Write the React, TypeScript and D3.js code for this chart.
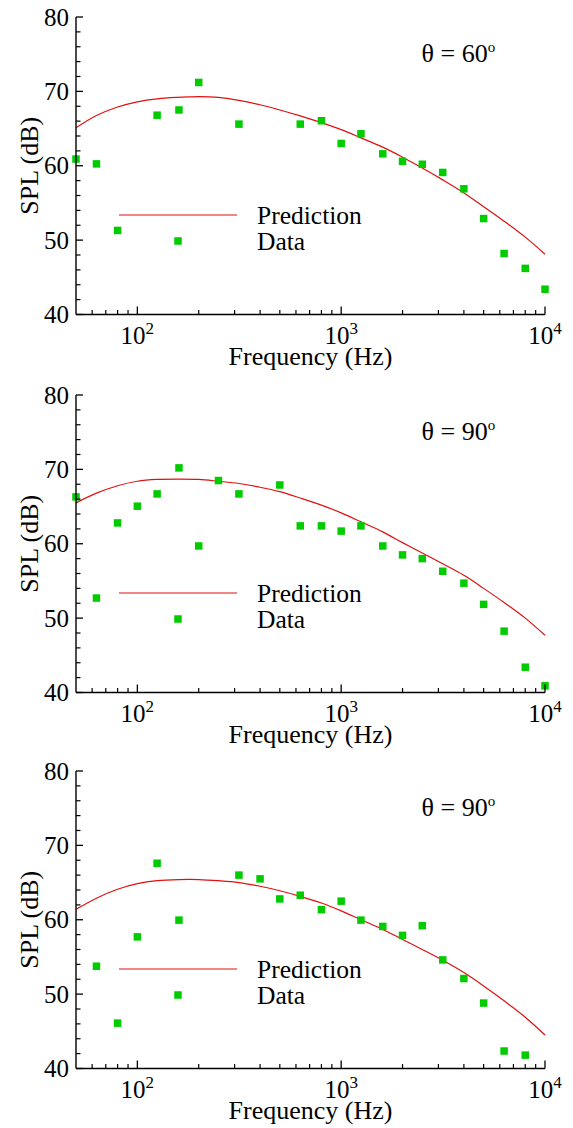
import React from 'react';
import * as d3 from 'd3';

// Prediction curve sampled at 1/3-octave band centre frequencies (Hz)
const predFreqs = [50, 63, 80, 100, 125, 160, 200, 250, 315, 400, 500, 630, 800, 1000, 1250, 1600, 2000, 2500, 3150, 4000, 5000, 6300, 8000, 10000];
const pred60 = [65.1, 66.75, 67.9, 68.6, 69.0, 69.2, 69.3, 69.2, 68.8, 68.2, 67.5, 66.7, 65.8, 64.85, 63.75, 62.5, 61.15, 59.7, 58.1, 56.35, 54.5, 52.55, 50.4, 48.1];
const pred90a = [65.5, 66.8, 67.8, 68.4, 68.65, 68.7, 68.65, 68.4, 68.1, 67.6, 67.0, 66.15, 65.2, 64.15, 62.95, 61.6, 60.15, 58.75, 57.3, 55.75, 54.0, 52.1, 50.0, 47.7];
const pred90b = [61.4, 62.9, 64.1, 64.85, 65.25, 65.4, 65.4, 65.25, 65.0, 64.5, 63.9, 63.15, 62.25, 61.2, 60.0, 58.7, 57.35, 56.0, 54.55, 52.9, 51.1, 49.1, 46.9, 44.5];

// Measured data
const data60Freqs = [50, 63, 80, 125, 160, 200, 315, 630, 800, 1000, 1250, 1600, 2000, 2500, 3150, 4000, 5000, 6300, 8000, 10000];
const data60 = [60.9, 60.25, 51.3, 66.8, 67.5, 71.2, 65.6, 65.6, 66.05, 63.0, 64.3, 61.6, 60.6, 60.2, 59.1, 56.9, 52.9, 48.2, 46.2, 43.4];

const data90aFreqs = [50, 63, 80, 100, 125, 160, 200, 250, 315, 500, 630, 800, 1000, 1250, 1600, 2000, 2500, 3150, 4000, 5000, 6300, 8000, 10000];
const data90a = [66.3, 52.7, 62.8, 65.05, 66.7, 70.2, 59.7, 68.5, 66.7, 67.9, 62.4, 62.4, 61.7, 62.4, 59.7, 58.5, 58.0, 56.3, 54.7, 51.85, 48.25, 43.4, 40.9];

const data90bFreqs = [63, 80, 100, 125, 160, 315, 400, 500, 630, 800, 1000, 1250, 1600, 2000, 2500, 3150, 4000, 5000, 6300, 8000];
const data90b = [53.75, 46.1, 57.7, 67.6, 59.95, 66.0, 65.5, 62.8, 63.3, 61.35, 62.5, 59.95, 59.1, 57.9, 59.2, 54.6, 52.1, 48.8, 42.35, 41.8];

const panelAngles = ['60', '90', '90'];
const yMajorTicks = [40, 50, 60, 70, 80];
const xMajorTicks = [100, 1000, 10000];
const xMajorExps = ['2', '3', '4'];
const legendLabels = ['Prediction', 'Data'];

const FONT = "'Liberation Serif', 'Times New Roman', serif";
const RED = '#e01010';
const GREEN = '#00cc00';

type PanelProps = {
  top: number;
  angle: string;
  pred: number[];
  dFreqs: number[];
  dVals: number[];
};

function Panel({ top, angle, pred, dFreqs, dVals }: PanelProps) {
  const H = 297.5;
  const left = 76;
  const right = 545;
  const bottom = top + H;
  const x = d3.scaleLog().domain([50, 10000]).range([left, right]);
  const y = d3.scaleLinear().domain([40, 80]).range([bottom, top]);
  const line = d3
    .line<number>()
    .x((_, i) => x(predFreqs[i]))
    .y((v) => y(v))
    .curve(d3.curveCatmullRom.alpha(0.5));
  const xMinor = x.ticks().filter((t) => !xMajorTicks.includes(t) && t > 50);
  const yMinor = d3.range(42, 80, 2).filter((t) => t % 10 !== 0);
  const sq = 7.5;
  const legX0 = 119;
  const legX1 = 237;
  return (
    <g>
      {/* prediction */}
      <path d={line(pred) || ''} fill="none" stroke={RED} strokeWidth={1.2} />
      {/* data */}
      {dVals.map((v, i) => (
        <rect
          key={i}
          x={x(dFreqs[i]) - sq / 2}
          y={y(v) - sq / 2}
          width={sq}
          height={sq}
          fill={GREEN}
        />
      ))}
      {/* axes */}
      <line x1={left} x2={left} y1={top} y2={bottom} stroke="#000" strokeWidth={1.4} />
      <line x1={left} x2={right} y1={bottom} y2={bottom} stroke="#000" strokeWidth={1.4} />
      {yMajorTicks.map((t) => (
        <g key={'ym' + t}>
          <line x1={left} x2={left + 7} y1={y(t)} y2={y(t)} stroke="#000" strokeWidth={1.3} />
          <text x={69} y={y(t) + 8.5} textAnchor="end" fontFamily={FONT} fontSize={25}>
            {t}
          </text>
        </g>
      ))}
      {yMinor.map((t) => (
        <line key={'yn' + t} x1={left} x2={left + 4.5} y1={y(t)} y2={y(t)} stroke="#000" strokeWidth={1.2} />
      ))}
      {xMajorTicks.map((t, i) => (
        <g key={'xm' + t}>
          <line x1={x(t)} x2={x(t)} y1={bottom} y2={bottom - 8} stroke="#000" strokeWidth={1.3} />
          <text x={x(t)} y={bottom + 29.5} textAnchor="middle" fontFamily={FONT} fontSize={25}>
            10
            <tspan dy={-10} fontSize={17}>
              {xMajorExps[i]}
            </tspan>
          </text>
        </g>
      ))}
      {xMinor.map((t) => (
        <line key={'xn' + t} x1={x(t)} x2={x(t)} y1={bottom} y2={bottom - 4.5} stroke="#000" strokeWidth={1.2} />
      ))}
      {/* axis titles */}
      <text x={(left + right) / 2} y={bottom + 50.5} textAnchor="middle" fontFamily={FONT} fontSize={26}>
        Frequency (Hz)
      </text>
      <text
        transform={`translate(38,${(top + bottom) / 2}) rotate(-90)`}
        textAnchor="middle"
        fontFamily={FONT}
        fontSize={26}
      >
        SPL (dB)
      </text>
      {/* angle label */}
      <text x={421.5} y={top + 44.5} fontFamily={FONT} fontSize={26}>
        θ = {angle}
        <tspan dy={-10} fontSize={15}>
          o
        </tspan>
      </text>
      {/* legend */}
      <line x1={legX0} x2={legX1} y1={top + 198} y2={top + 198} stroke={RED} strokeWidth={1.2} />
      <text x={257} y={top + 206.5} fontFamily={FONT} fontSize={25.5}>
        {legendLabels[0]}
      </text>
      <rect x={(legX0 + legX1) / 2 - sq / 2} y={top + 224 - sq / 2} width={sq} height={sq} fill={GREEN} />
      <text x={257} y={top + 233} fontFamily={FONT} fontSize={25.5}>
        {legendLabels[1]}
      </text>
    </g>
  );
}

export default function App() {
  const tops = [17, 395, 771];
  const preds = [pred60, pred90a, pred90b];
  const dfs = [data60Freqs, data90aFreqs, data90bFreqs];
  const dvs = [data60, data90a, data90b];
  return (
    <svg
      width={573}
      height={1128}
      style={{ position: 'absolute', left: 0, top: 0, background: '#fff' }}
    >
      <rect width={573} height={1128} fill="#fff" />
      {tops.map((t, i) => (
        <Panel key={i} top={t} angle={panelAngles[i]} pred={preds[i]} dFreqs={dfs[i]} dVals={dvs[i]} />
      ))}
    </svg>
  );
}
